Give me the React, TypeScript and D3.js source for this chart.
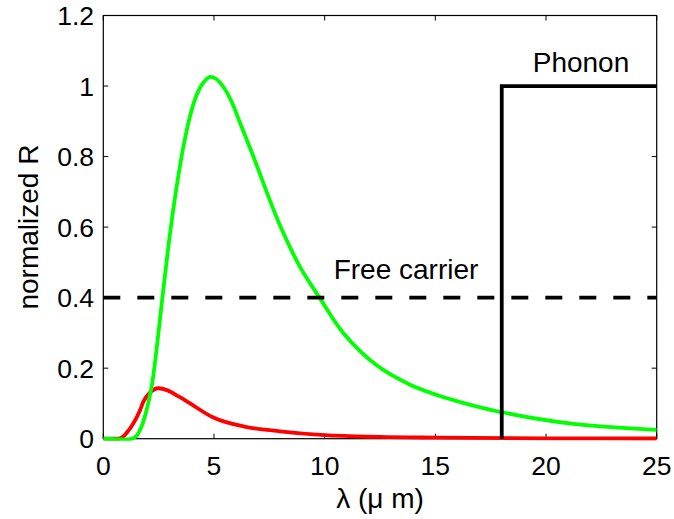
import React from "react";
import * as d3 from "d3";

const greenX = [0, 1.3, 1.5, 1.73, 1.95, 2.19, 2.4, 2.67, 2.94, 3.16, 3.39, 3.61, 3.92, 4.22, 4.5, 4.82, 5.1, 5.42, 5.8, 6.18, 6.78, 7.38, 7.98, 8.88, 9.79, 10.85, 12.35, 13.86, 15.21, 16.12, 18, 21.24, 25];
const greenY = [0, 0, 0.008, 0.035, 0.08, 0.15, 0.25, 0.4, 0.545, 0.65, 0.745, 0.825, 0.915, 0.975, 1.008, 1.026, 1.02, 0.998, 0.955, 0.895, 0.8, 0.7, 0.605, 0.488, 0.398, 0.299, 0.208, 0.153, 0.121, 0.104, 0.075, 0.042, 0.025];

const redX = [0, 0.7, 0.9, 1.1, 1.36, 1.66, 1.81, 2.1, 2.49, 2.9, 3.4, 3.92, 4.97, 6.48, 7.98, 10, 12.5, 15, 20, 25];
const redY = [0, 0, 0.006, 0.02, 0.044, 0.081, 0.105, 0.13, 0.143, 0.137, 0.12, 0.1, 0.06, 0.033, 0.021, 0.01, 0.005, 0.003, 0.001, 0.0005];

const freeCarrierX = [0, 25];
const freeCarrierY = [0.4, 0.4];

const phononX = [18, 18, 25];
const phononY = [0, 1, 1];

const xTicks = [0, 5, 10, 15, 20, 25];
const yTicks = [0, 0.2, 0.4, 0.6, 0.8, 1, 1.2];

const W = 674;
const H = 519;
const L = 103.3, R = 656.7, T = 15.5, B = 438.7;
const FONT = "'Liberation Sans', Arial, Helvetica, sans-serif";

export default function App() {
  const x = d3.scaleLinear().domain([0, 25]).range([L, R]);
  const y = d3.scaleLinear().domain([0, 1.2]).range([B, T]);
  const mk = (xs: number[], ys: number[], curve: any) =>
    d3
      .line<number>()
      .x((_, i) => x(xs[i]))
      .y((_, i) => y(ys[i]))
      .curve(curve)(xs) as string;

  const tickLen = 5;
  const fs = 26.5;
  const fl = 28;
  const lw = 3.8;

  return (
    <svg
      width={W}
      height={H}
      style={{ position: "absolute", left: 0, top: 0, background: "#fff" }}
      fontFamily={FONT}
    >
      <rect x={0} y={0} width={W} height={H} fill="#fff" />
      <defs>
        <clipPath id="plot">
          <rect x={L} y={T - 2} width={R - L} height={B - T + 4} />
        </clipPath>
      </defs>
      <rect x={L} y={T} width={R - L} height={B - T} fill="none" stroke="#000" strokeWidth={1.2} />
      {xTicks.map((t) => (
        <g key={"xt" + t}>
          <line x1={x(t)} x2={x(t)} y1={B} y2={B - tickLen} stroke="#000" strokeWidth={1} />
          <line x1={x(t)} x2={x(t)} y1={T} y2={T + tickLen} stroke="#000" strokeWidth={1} />
          <text x={x(t)} y={475} fontSize={fs} textAnchor="middle" fill="#000">
            {t}
          </text>
        </g>
      ))}
      {yTicks.map((t) => (
        <g key={"yt" + t}>
          <line x1={L} x2={L + tickLen} y1={y(t)} y2={y(t)} stroke="#000" strokeWidth={1} />
          <line x1={R} x2={R - tickLen} y1={y(t)} y2={y(t)} stroke="#000" strokeWidth={1} />
          <text x={94} y={y(t) + 9.5} fontSize={fs} textAnchor="end" fill="#000">
            {t}
          </text>
        </g>
      ))}
      <g clipPath="url(#plot)" fill="none" strokeLinejoin="round">
        <path d={mk(redX, redY, d3.curveMonotoneX)} stroke="#ff0000" strokeWidth={lw} />
        <path d={mk(greenX, greenY, d3.curveCatmullRom.alpha(0.5))} stroke="#00ff00" strokeWidth={lw} />
        <path
          d={mk(freeCarrierX, freeCarrierY, d3.curveLinear)}
          stroke="#000"
          strokeWidth={lw}
          strokeDasharray="17,17"
        />
        <path d={mk(phononX, phononY, d3.curveLinear)} stroke="#000" strokeWidth={lw} strokeLinejoin="miter" />
      </g>
      <text x={406} y={279} fontSize={fl} textAnchor="middle" fill="#000">
        Free carrier
      </text>
      <text x={581} y={72} fontSize={fl} textAnchor="middle" fill="#000">
        Phonon
      </text>
      <text x={380} y={508} fontSize={fl} textAnchor="middle" fill="#000">
        λ (μ m)
      </text>
      <text
        transform={`translate(38, ${(T + B) / 2}) rotate(-90)`}
        fontSize={fl}
        textAnchor="middle"
        fill="#000"
      >
        normalized R
      </text>
    </svg>
  );
}
